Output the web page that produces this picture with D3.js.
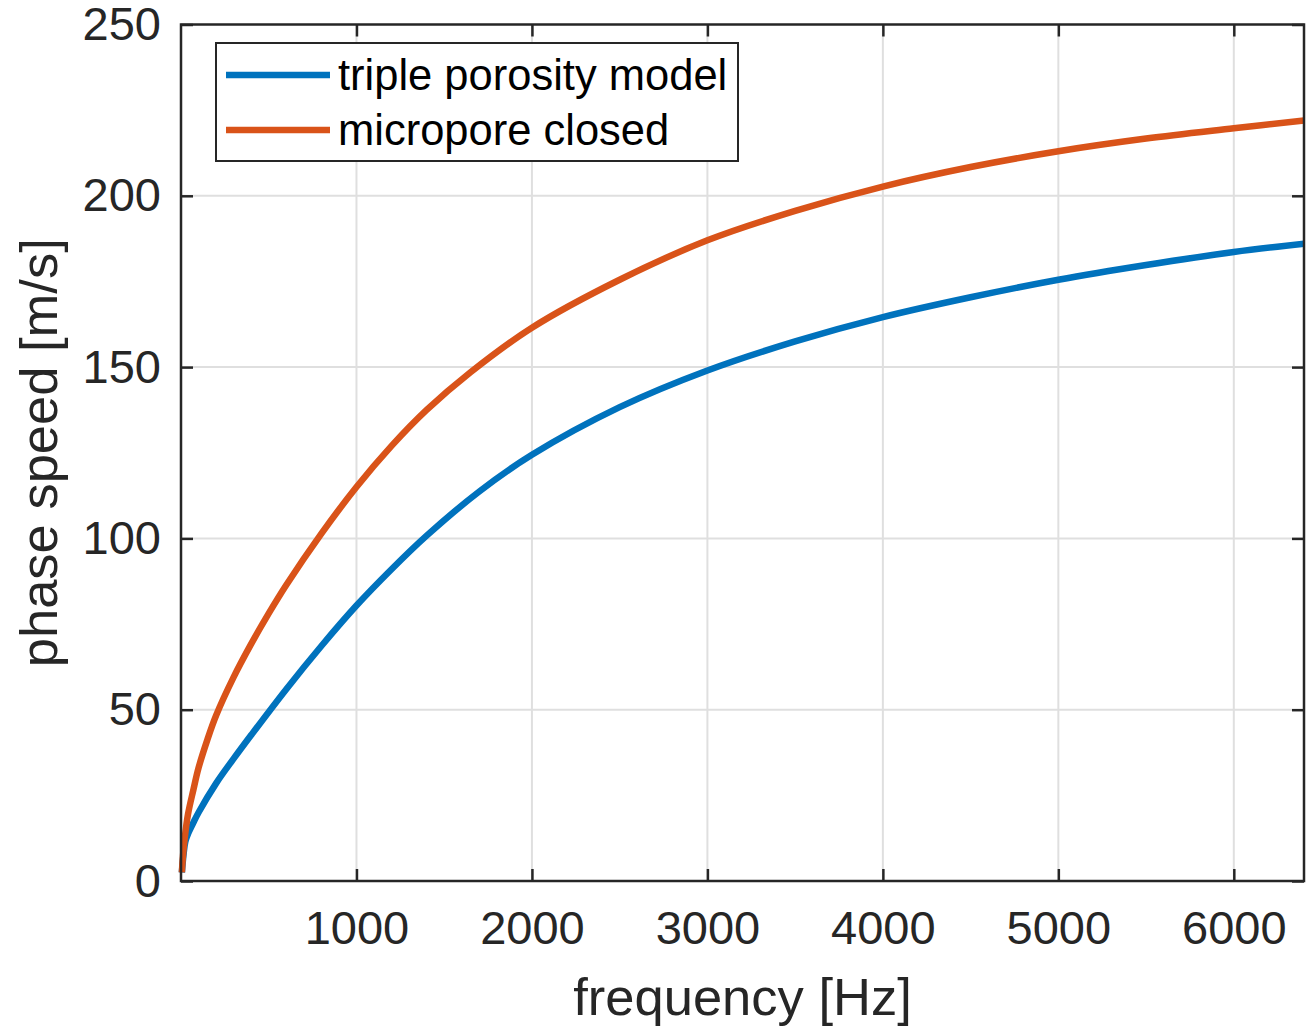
<!DOCTYPE html>
<html>
  <head>
    <meta charset="utf-8">
    <script src="https://d3js.org/d3.v7.min.js"></script>
    <style>
      body { margin: 0; background: #fff; }
      text { font-family: "Liberation Sans", Arial, sans-serif; }
    </style>
  </head>
  <body>
    <div id="graph"></div>
  </body>
  <script>
    // Data (frequency in Hz, phase speed in m/s)
    var freqTriple = [5, 15, 25, 42, 70, 100, 200, 300, 400, 600, 800, 1000, 1200, 1400, 1700, 2000, 2500, 3000, 3500, 4000, 4500, 5000, 5500, 6000, 6400];
    var speedTriple = [2.5, 8, 11.5, 14, 17, 20, 28.5, 35.7, 42.6, 56, 68.6, 80.4, 91, 100.8, 113.7, 124.4, 138.3, 149, 157.5, 164.6, 170.4, 175.5, 179.8, 183.6, 186];

    var freqClosed = [5, 10, 20, 40, 70, 100, 150, 200, 300, 400, 500, 600, 800, 1000, 1200, 1400, 1650, 2000, 2500, 3000, 3500, 4000, 4500, 5000, 5500, 6000, 6400];
    var speedClosed = [2.5, 6.5, 12, 19.5, 26.5, 33, 41.2, 48.3, 59.5, 69.2, 78.1, 86.4, 101.4, 115, 127, 137.5, 148.5, 161.5, 175.5, 187, 195.6, 202.7, 208.4, 213, 216.7, 219.7, 222];

    var seriesNames = ["triple porosity model", "micropore closed"];
    var seriesColors = ["#0072BD", "#D95319"];

    var xTicks = [1000, 2000, 3000, 4000, 5000, 6000];
    var yTicks = [0, 50, 100, 150, 200, 250];

    var width = 1309, height = 1028;
    var margin = {top: 24.5, right: 5, bottom: 147, left: 181};
    var axisColor = "#262626";

    var svg = d3.select("#graph")
                .append("svg")
                  .attr("width", width)
                  .attr("height", height);

    var x = d3.scaleLinear()
              .domain([0, 6400])
              .range([margin.left, width - margin.right]);
    var y = d3.scaleLinear()
              .domain([0, 250])
              .range([height - margin.bottom, margin.top]);

    // Grid lines
    svg.append("g")
       .selectAll("line")
       .data(xTicks)
       .join("line")
         .attr("x1", function(d) { return x(d); })
         .attr("x2", function(d) { return x(d); })
         .attr("y1", y(0))
         .attr("y2", y(250))
         .style("stroke", "#dfdfdf")
         .style("stroke-width", 2);

    svg.append("g")
       .selectAll("line")
       .data(yTicks.slice(1, -1))
       .join("line")
         .attr("x1", x(0))
         .attr("x2", x(6400))
         .attr("y1", function(d) { return y(d); })
         .attr("y2", function(d) { return y(d); })
         .style("stroke", "#dfdfdf")
         .style("stroke-width", 2);

    // Curves
    var line = d3.line()
                 .x(function(d) { return x(d[0]); })
                 .y(function(d) { return y(d[1]); })
                 .curve(d3.curveCatmullRom.alpha(0.5));

    var series = [
      d3.zip(freqTriple, speedTriple),
      d3.zip(freqClosed, speedClosed)
    ];

    svg.append("g")
       .selectAll("path")
       .data(series)
       .join("path")
         .attr("d", line)
         .style("fill", "none")
         .style("stroke", function(d, i) { return seriesColors[i]; })
         .style("stroke-width", 6.5)
         .style("stroke-linejoin", "round");

    // Axes (ticks inward, box on all sides)
    var tickLen = 12;
    function styleAxis(g) {
      g.select(".domain").remove();
      g.selectAll(".tick line")
       .style("stroke", axisColor)
       .style("stroke-width", 2.5);
      g.selectAll(".tick text")
       .style("fill", axisColor)
       .style("font-size", "47px")
       .attr("font-family", null);
    }

    svg.append("g")
       .attr("transform", "translate(0," + y(0) + ")")
       .call(d3.axisBottom(x).tickValues(xTicks).tickSize(-tickLen).tickPadding(30).tickFormat(d3.format("d")))
       .call(styleAxis);

    svg.append("g")
       .attr("transform", "translate(0," + y(250) + ")")
       .call(d3.axisTop(x).tickValues(xTicks).tickSize(-tickLen).tickFormat(""))
       .call(styleAxis);

    svg.append("g")
       .attr("transform", "translate(" + x(0) + ",0)")
       .call(d3.axisLeft(y).tickValues(yTicks).tickSize(-tickLen).tickPadding(20).tickFormat(d3.format("d")))
       .call(styleAxis);

    svg.append("g")
       .attr("transform", "translate(" + x(6400) + ",0)")
       .call(d3.axisRight(y).tickValues(yTicks).tickSize(-tickLen).tickFormat(""))
       .call(styleAxis);

    // Box
    svg.append("rect")
       .attr("x", x(0))
       .attr("y", y(250))
       .attr("width", x(6400) - x(0))
       .attr("height", y(0) - y(250))
       .style("fill", "none")
       .style("stroke", axisColor)
       .style("stroke-width", 2.5);

    // Axis labels
    svg.append("text")
       .attr("x", (x(0) + x(6400)) / 2)
       .attr("y", 1015)
       .style("text-anchor", "middle")
       .style("font-size", "52.5px")
       .style("fill", axisColor)
       .text("frequency [Hz]");

    svg.append("text")
       .attr("transform", "translate(57," + (y(0) + y(250)) / 2 + ") rotate(-90)")
       .style("text-anchor", "middle")
       .style("font-size", "52.5px")
       .style("fill", axisColor)
       .text("phase speed [m/s]");

    // Legend
    var legend = svg.append("g");
    legend.append("rect")
          .attr("x", 216)
          .attr("y", 43)
          .attr("width", 522)
          .attr("height", 118)
          .style("fill", "#fff")
          .style("stroke", axisColor)
          .style("stroke-width", 2);

    var rows = legend.selectAll("g.row")
                     .data(seriesNames)
                     .join("g")
                       .attr("class", "row")
                       .attr("transform", function(d, i) { return "translate(0," + (75 + i * 55) + ")"; });

    rows.append("line")
        .attr("x1", 226)
        .attr("x2", 330)
        .style("stroke", function(d, i) { return seriesColors[i]; })
        .style("stroke-width", 6.5);

    rows.append("text")
        .attr("x", 338)
        .attr("dy", "0.35em")
        .style("font-size", "43.5px")
        .style("fill", "#000")
        .text(function(d) { return d; });
  </script>
</html>
